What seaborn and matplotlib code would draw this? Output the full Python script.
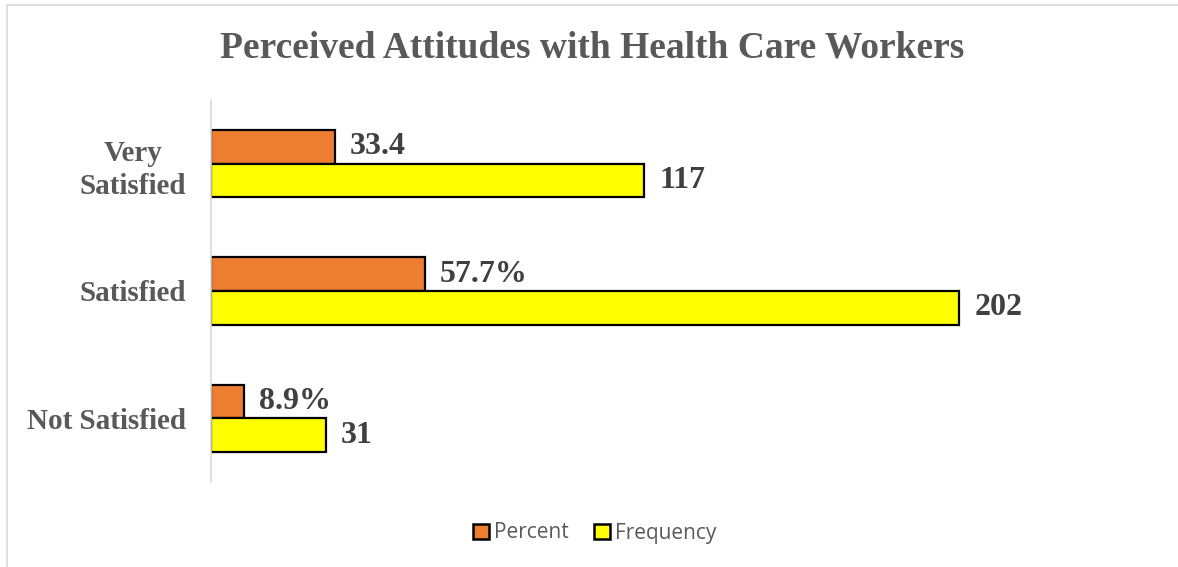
import matplotlib
matplotlib.use("Agg")
import matplotlib.pyplot as plt
import seaborn as sns
import pandas as pd
from matplotlib.patches import Rectangle, Patch

categories = ["Very\nSatisfied", "Satisfied", "Not Satisfied"]
percent_values = [33.4, 57.7, 8.9]
frequency_values = [117, 202, 31]
percent_labels = ["33.4", "57.7%", "8.9%"]
frequency_labels = ["117", "202", "31"]
series_names = ["Percent", "Frequency"]
colors = {"Percent": "#ED7D31", "Frequency": "#FFFF00"}

df = pd.DataFrame({
    "category": categories * 2,
    "series": [series_names[0]] * 3 + [series_names[1]] * 3,
    "value": percent_values + frequency_values,
})

sns.set_style("white")
fig = plt.figure(figsize=(11.78, 5.67), dpi=100)
ax = fig.add_axes([211 / 1178, 1 - 482 / 567, (1100 - 211) / 1178, (482 - 100) / 567])

sns.barplot(data=df, y="category", x="value", hue="series", hue_order=series_names,
            order=categories, palette=colors, orient="h", width=0.53,
            edgecolor="black", linewidth=1.6, saturation=1, ax=ax, legend=False)

ax.set_xlim(0, 240)
ax.set_ylim(2.5, -0.5)
ax.set_xlabel("")
ax.set_ylabel("")
ax.set_xticks([])
for s in ["top", "right", "bottom"]:
    ax.spines[s].set_visible(False)
ax.spines["left"].set_color("#D9D9D9")
ax.spines["left"].set_linewidth(1.2)

serif = ["Liberation Serif", "DejaVu Serif"]
ax.tick_params(axis="y", length=0, pad=18)
for lab in ax.get_yticklabels():
    lab.set_fontfamily(serif)
    lab.set_fontweight("bold")
    lab.set_fontsize(21)
    lab.set_color("#595959")
    lab.set_multialignment("center")
    lab.set_linespacing(1.3)

for cont, labels in zip(ax.containers, [percent_labels, frequency_labels]):
    ax.bar_label(cont, labels=labels, padding=11, fontsize=23, fontweight="bold",
                 fontfamily=serif, color="#404040")

fig.text(0.503, 1 - 48 / 567, "Perceived Attitudes with Health Care Workers",
         ha="center", va="center", fontsize=27, fontweight="bold",
         fontfamily=serif, color="#595959")

handles = [Patch(facecolor=colors[n], edgecolor="black", linewidth=1.8) for n in series_names]
leg = fig.legend(handles, series_names, loc="center", bbox_to_anchor=(0.505, 1 - 533 / 567),
                 ncol=2, frameon=False, handlelength=0.75, handleheight=0.75,
                 handletextpad=0.25, columnspacing=1.2,
                 prop={"family": ["Open Sans", "DejaVu Sans"], "size": 15})
for t in leg.get_texts():
    t.set_color("#595959")

fig.patches.append(Rectangle((7 / 1178, -0.01), 1.05, 1 - 5 / 567 + 0.01,
                             transform=fig.transFigure, fill=False,
                             edgecolor="#D9D9D9", linewidth=1.2))

fig.savefig("out.png", dpi=100)
